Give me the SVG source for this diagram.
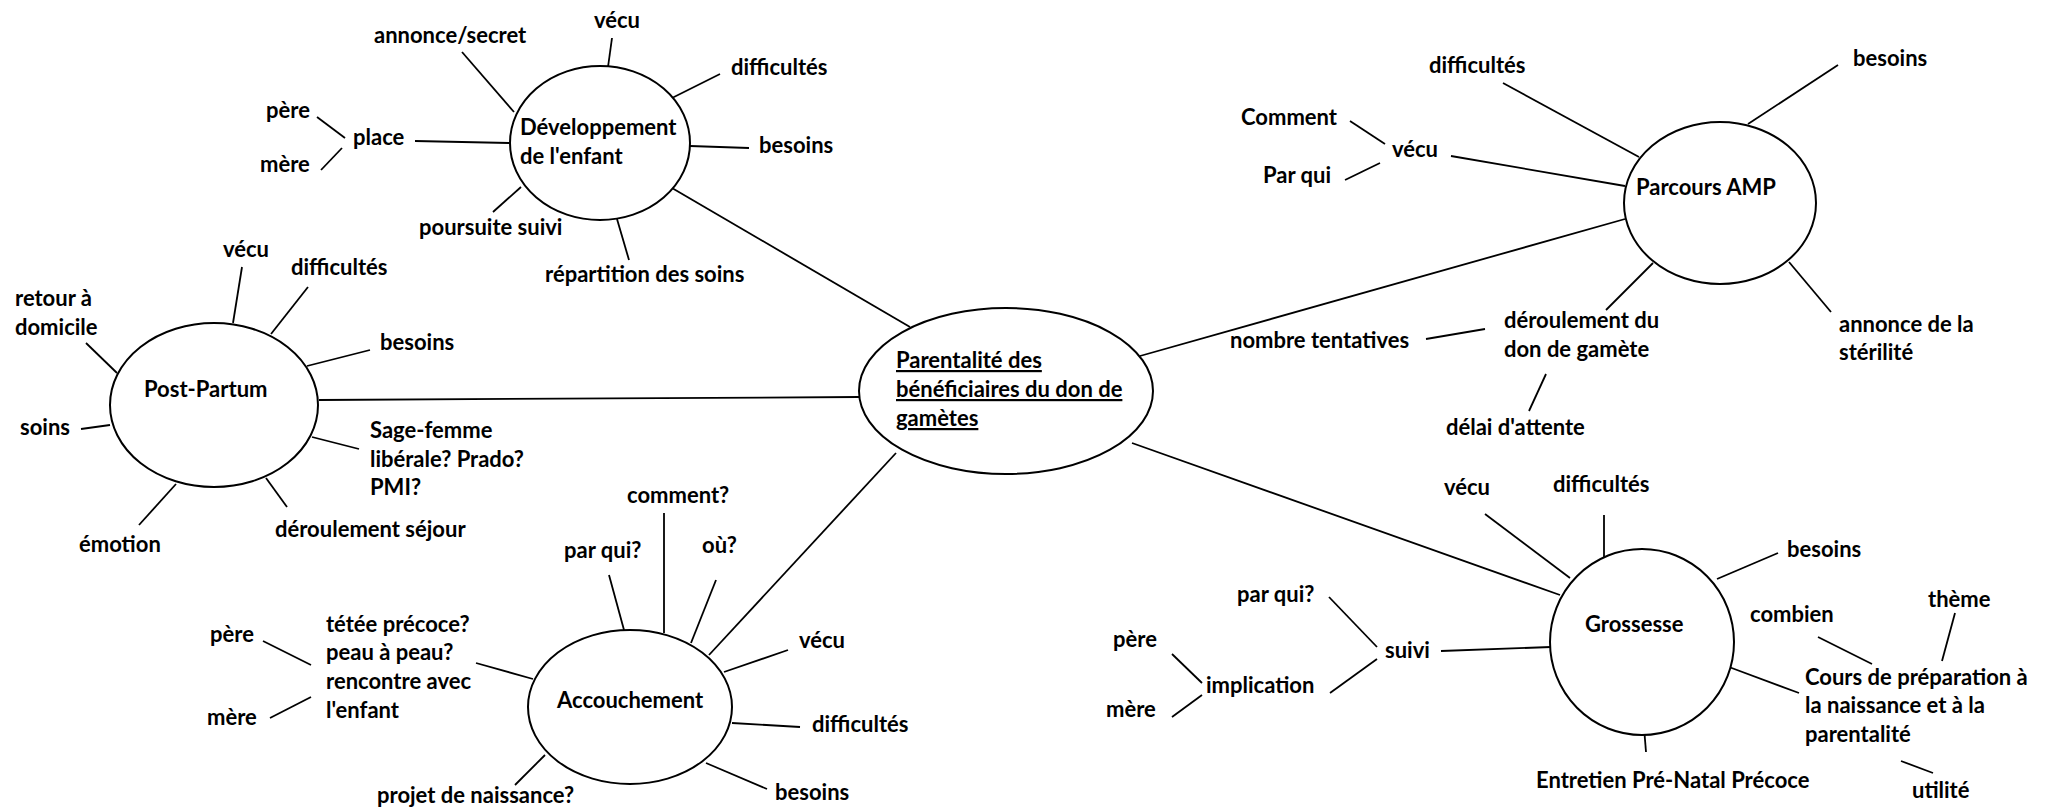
<svg xmlns="http://www.w3.org/2000/svg" width="2055" height="812" viewBox="0 0 2055 812">
<style>
text { font-family: Lato, "Open Sans", sans-serif; font-weight: 700; font-size: 22px; fill: #000; }
.n { fill: #fff; stroke: #000; stroke-width: 2; }
#connectors line { stroke: #000; stroke-width: 1.8; fill: none; }
.u { text-decoration: underline; }
</style>
<rect width="2055" height="812" fill="#fff"/>
<g id="connectors">
  <line x1="672" y1="188" x2="910" y2="327"/>
  <line x1="319" y1="400" x2="859" y2="397"/>
  <line x1="709" y1="655" x2="896" y2="453"/>
  <line x1="1140" y1="356" x2="1625" y2="219"/>
  <line x1="1132" y1="443" x2="1560" y2="595"/>
  <line x1="612" y1="38" x2="608" y2="67"/>
  <line x1="462" y1="52" x2="514" y2="112"/>
  <line x1="672" y1="98" x2="720" y2="74"/>
  <line x1="690" y1="146" x2="749" y2="148"/>
  <line x1="415" y1="141" x2="509" y2="143"/>
  <line x1="317" y1="117" x2="345" y2="138"/>
  <line x1="321" y1="170" x2="342" y2="148"/>
  <line x1="521" y1="187" x2="493" y2="212"/>
  <line x1="617" y1="219" x2="629" y2="260"/>
  <line x1="242" y1="267" x2="233" y2="323"/>
  <line x1="308" y1="287" x2="271" y2="334"/>
  <line x1="370" y1="350" x2="307" y2="366"/>
  <line x1="86" y1="343" x2="117" y2="373"/>
  <line x1="81" y1="429" x2="110" y2="425"/>
  <line x1="312" y1="437" x2="359" y2="449"/>
  <line x1="139" y1="525" x2="176" y2="484"/>
  <line x1="266" y1="478" x2="287" y2="507"/>
  <line x1="664" y1="513" x2="664" y2="633"/>
  <line x1="609" y1="575" x2="624" y2="630"/>
  <line x1="716" y1="580" x2="691" y2="643"/>
  <line x1="788" y1="650" x2="724" y2="672"/>
  <line x1="732" y1="723" x2="800" y2="727"/>
  <line x1="706" y1="763" x2="767" y2="789"/>
  <line x1="545" y1="755" x2="515" y2="785"/>
  <line x1="476" y1="663" x2="533" y2="679"/>
  <line x1="263" y1="641" x2="311" y2="665"/>
  <line x1="270" y1="718" x2="311" y2="697"/>
  <line x1="1503" y1="83" x2="1639" y2="157"/>
  <line x1="1838" y1="65" x2="1748" y2="124"/>
  <line x1="1350" y1="121" x2="1385" y2="144"/>
  <line x1="1451" y1="156" x2="1625" y2="186"/>
  <line x1="1345" y1="180" x2="1380" y2="163"/>
  <line x1="1426" y1="339" x2="1485" y2="329"/>
  <line x1="1606" y1="310" x2="1653" y2="263"/>
  <line x1="1546" y1="374" x2="1529" y2="411"/>
  <line x1="1789" y1="262" x2="1831" y2="312"/>
  <line x1="1485" y1="514" x2="1570" y2="578"/>
  <line x1="1604" y1="515" x2="1604" y2="557"/>
  <line x1="1778" y1="553" x2="1717" y2="579"/>
  <line x1="1818" y1="637" x2="1872" y2="664"/>
  <line x1="1955" y1="613" x2="1942" y2="661"/>
  <line x1="1729" y1="667" x2="1799" y2="693"/>
  <line x1="1901" y1="761" x2="1933" y2="773"/>
  <line x1="1643" y1="715" x2="1646" y2="752"/>
  <line x1="1441" y1="651" x2="1551" y2="647"/>
  <line x1="1329" y1="597" x2="1377" y2="647"/>
  <line x1="1330" y1="693" x2="1377" y2="659"/>
  <line x1="1172" y1="654" x2="1202" y2="683"/>
  <line x1="1172" y1="717" x2="1202" y2="695"/>
</g>
<g id="node-main">
  <ellipse class="n" cx="1006" cy="391" rx="147" ry="83"/>
  <text class="u" x="896" y="368">Parentalité des</text>
  <text class="u" x="896" y="397">bénéficiaires du don de</text>
  <text class="u" x="896" y="426">gamètes</text>
</g>
<g id="node-developpement">
  <ellipse class="n" cx="600" cy="143" rx="90" ry="77"/>
  <text x="520" y="135">Développement</text>
  <text x="520" y="164">de l'enfant</text>
</g>
<g id="node-postpartum">
  <ellipse class="n" cx="214" cy="405" rx="104" ry="82"/>
  <text x="144" y="397">Post-Partum</text>
</g>
<g id="node-accouchement">
  <ellipse class="n" cx="630" cy="707" rx="102" ry="77"/>
  <text x="557" y="708">Accouchement</text>
</g>
<g id="node-parcours">
  <ellipse class="n" cx="1720" cy="203" rx="96" ry="81"/>
  <text x="1636" y="195">Parcours AMP</text>
</g>
<g id="node-grossesse">
  <ellipse class="n" cx="1642" cy="642" rx="92" ry="93"/>
  <text x="1585" y="632">Grossesse</text>
</g>
<g id="labels-developpement">
  <text x="374" y="43">annonce/secret</text>
  <text x="594" y="28">vécu</text>
  <text x="731" y="75">difficultés</text>
  <text x="759" y="153">besoins</text>
  <text x="545" y="282">répartition des soins</text>
  <text x="419" y="235">poursuite suivi</text>
  <text x="353" y="145">place</text>
  <text x="266" y="118">père</text>
  <text x="260" y="172">mère</text>
</g>
<g id="labels-postpartum">
  <text x="223" y="257">vécu</text>
  <text x="291" y="275">difficultés</text>
  <text x="15" y="306">retour à</text>
  <text x="15" y="335">domicile</text>
  <text x="380" y="350">besoins</text>
  <text x="20" y="435">soins</text>
  <text x="370" y="438">Sage-femme</text>
  <text x="370" y="467">libérale? Prado?</text>
  <text x="370" y="495">PMI?</text>
  <text x="79" y="552">émotion</text>
  <text x="275" y="537">déroulement séjour</text>
</g>
<g id="labels-accouchement">
  <text x="627" y="503">comment?</text>
  <text x="564" y="558">par qui?</text>
  <text x="702" y="553">où?</text>
  <text x="799" y="648">vécu</text>
  <text x="812" y="732">difficultés</text>
  <text x="775" y="800">besoins</text>
  <text x="377" y="803">projet de naissance?</text>
  <text x="326" y="632">tétée précoce?</text>
  <text x="326" y="660">peau à peau?</text>
  <text x="326" y="689">rencontre avec</text>
  <text x="326" y="718">l'enfant</text>
  <text x="210" y="642">père</text>
  <text x="207" y="725">mère</text>
</g>
<g id="labels-parcours">
  <text x="1429" y="73">difficultés</text>
  <text x="1853" y="66">besoins</text>
  <text x="1241" y="125">Comment</text>
  <text x="1392" y="157">vécu</text>
  <text x="1263" y="183">Par qui</text>
  <text x="1230" y="348">nombre tentatives</text>
  <text x="1504" y="328">déroulement du</text>
  <text x="1504" y="357">don de gamète</text>
  <text x="1446" y="435">délai d'attente</text>
  <text x="1839" y="332">annonce de la</text>
  <text x="1839" y="360">stérilité</text>
</g>
<g id="labels-grossesse">
  <text x="1444" y="495">vécu</text>
  <text x="1553" y="492">difficultés</text>
  <text x="1787" y="557">besoins</text>
  <text x="1750" y="622">combien</text>
  <text x="1928" y="607">thème</text>
  <text x="1805" y="685">Cours de préparation à</text>
  <text x="1805" y="713">la naissance et à la</text>
  <text x="1805" y="742">parentalité</text>
  <text x="1912" y="798">utilité</text>
  <text x="1536" y="788">Entretien Pré-Natal Précoce</text>
  <text x="1385" y="658">suivi</text>
  <text x="1237" y="602">par qui?</text>
  <text x="1206" y="693">implication</text>
  <text x="1113" y="647">père</text>
  <text x="1106" y="717">mère</text>
</g>
</svg>
